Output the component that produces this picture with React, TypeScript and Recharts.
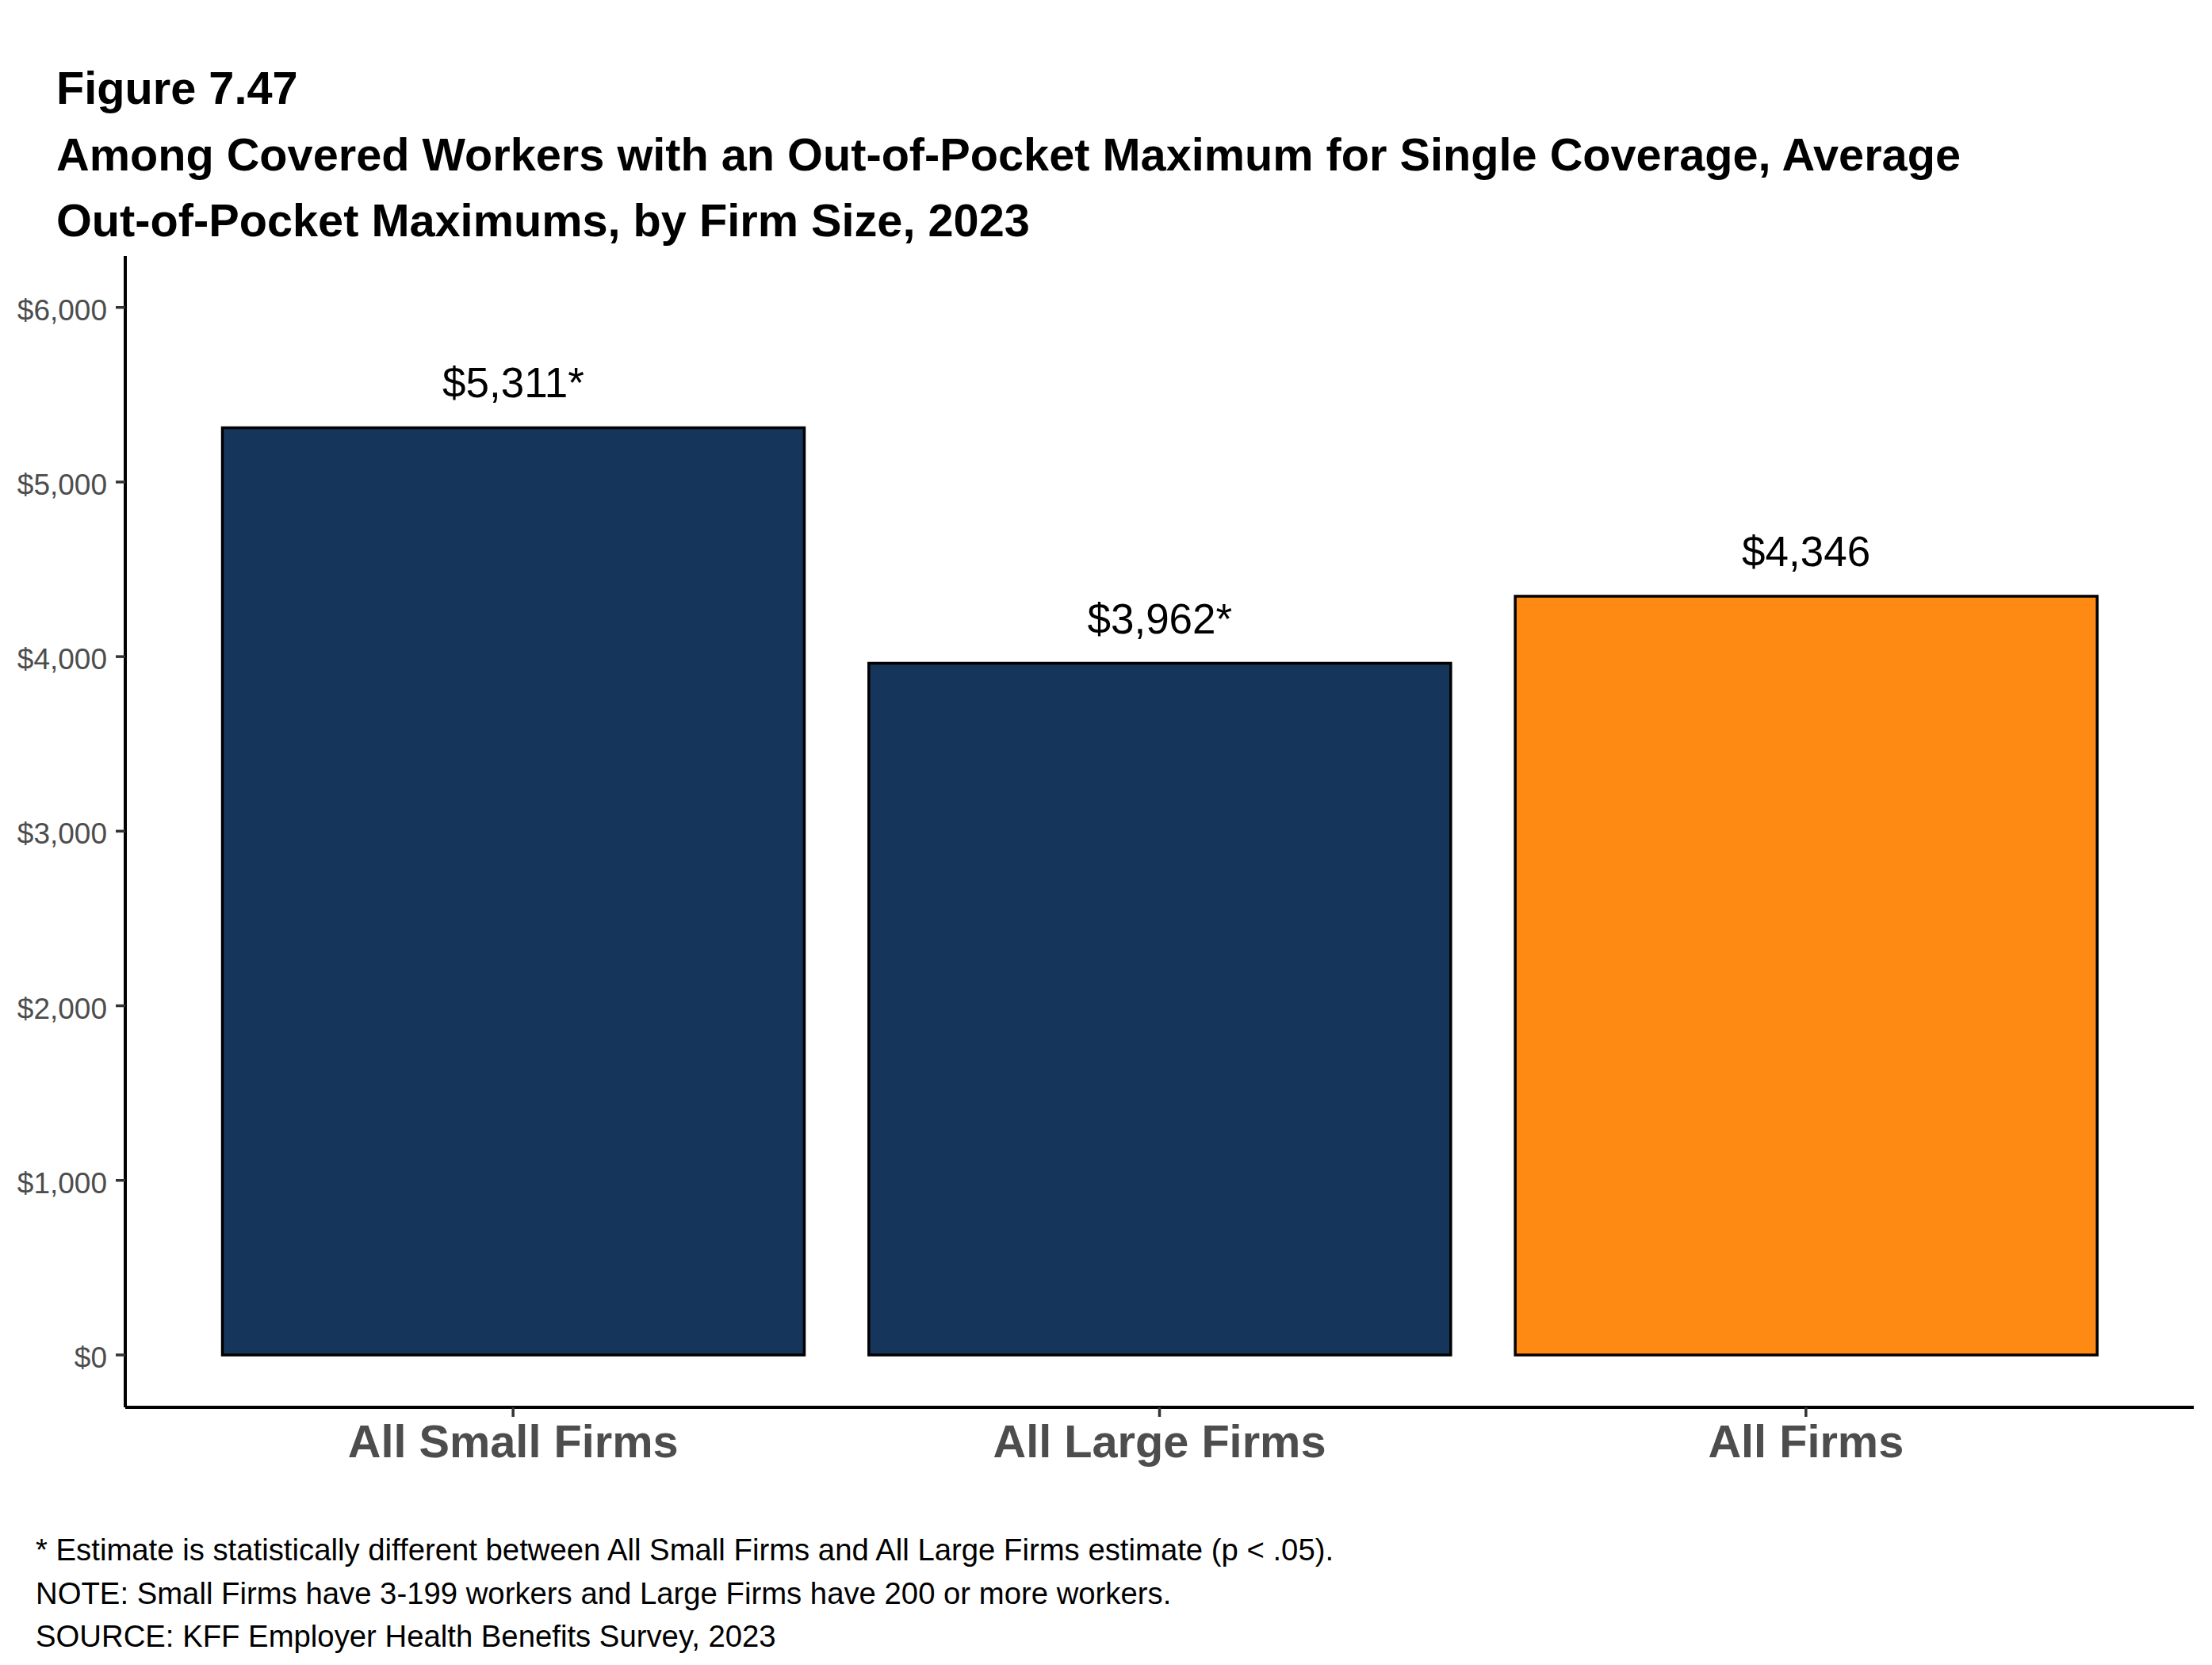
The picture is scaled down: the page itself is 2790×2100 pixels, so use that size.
import { BarChart, Bar, XAxis, YAxis, Cell, LabelList } from 'recharts';

const firms = ['All Small Firms', 'All Large Firms', 'All Firms'];
const oopMax = [5311, 3962, 4346];
const significant = [true, true, false];
const yTicks = [0, 1000, 2000, 3000, 4000, 5000, 6000];

const barColors = ['#15365a', '#15365a', '#ff8a13'];
const FONT = '"Liberation Sans", Arial, sans-serif';

const data = firms.map((name, i) => ({
  name,
  value: oopMax[i],
  label: `$${oopMax[i].toLocaleString('en-US')}${significant[i] ? '*' : ''}`,
}));

const money = (v: number) => `$${v.toLocaleString('en-US')}`;

// single-line text placed by baseline (line-height 1 => baseline ~0.8465em below top)
function Line({ text, baseline, size, bold }: { text: string; baseline: number; size: number; bold?: boolean }) {
  return (
    <div
      style={{
        position: 'absolute',
        left: bold ? 71 : 45,
        top: baseline - size * 0.8465,
        fontSize: size,
        lineHeight: 1,
        fontWeight: bold ? 700 : 400,
        color: '#000',
        whiteSpace: 'nowrap',
      }}
    >
      {text}
    </div>
  );
}

const renderLabel = (props: any) => {
  const { x, y, width, value } = props;
  return (
    <text
      x={x + width / 2}
      y={y - 38}
      textAnchor="middle"
      fontSize={53}
      fontFamily={FONT}
      fill="#000"
    >
      {value}
    </text>
  );
};

export default function App() {
  return (
    <div
      style={{
        position: 'absolute',
        left: 0,
        top: 0,
        width: 2790,
        height: 2100,
        background: '#fff',
        fontFamily: FONT,
      }}
    >
      <BarChart
        width={2790}
        height={2100}
        data={data}
        margin={{ top: 323, right: 23, bottom: 205, left: 0 }}
      >
        <XAxis
          dataKey="name"
          height={120}
          padding={{ left: 81.5, right: 81.5 }}
          axisLine={{ stroke: '#000', strokeWidth: 4 }}
          tickLine={{ stroke: '#333', strokeWidth: 3.5 }}
          tickSize={12}
          tickMargin={10}
          tick={{ fill: '#4d4d4d', fontSize: 57.7, fontWeight: 700, fontFamily: FONT }}
          interval={0}
        />
        <YAxis
          width={158}
          domain={[-300, 6294]}
          ticks={yTicks}
          tickFormatter={money}
          axisLine={{ stroke: '#000', strokeWidth: 4 }}
          tickLine={{ stroke: '#333', strokeWidth: 3.5 }}
          tickSize={12}
          tickMargin={11}
          tick={{ fill: '#4d4d4d', fontSize: 37, fontFamily: FONT, dy: 3 }}
        />
        <Bar dataKey="value" barSize={734} stroke="#000" strokeWidth={3.5} isAnimationActive={false}>
          {data.map((_, i) => (
            <Cell key={`cell-${i}`} fill={barColors[i]} />
          ))}
          <LabelList dataKey="label" content={renderLabel} />
        </Bar>
      </BarChart>

      <Line text="Figure 7.47" baseline={132} size={57.7} bold />
      <Line
        text="Among Covered Workers with an Out-of-Pocket Maximum for Single Coverage, Average"
        baseline={216}
        size={57.7}
        bold
      />
      <Line text="Out-of-Pocket Maximums, by Firm Size, 2023" baseline={299} size={57.7} bold />

      <Line
        text="* Estimate is statistically different between All Small Firms and All Large Firms estimate (p < .05)."
        baseline={1968}
        size={38.3}
      />
      <Line
        text="NOTE: Small Firms have 3-199 workers and Large Firms have 200 or more workers."
        baseline={2023}
        size={38.3}
      />
      <Line text="SOURCE: KFF Employer Health Benefits Survey, 2023" baseline={2077} size={38.3} />
    </div>
  );
}
